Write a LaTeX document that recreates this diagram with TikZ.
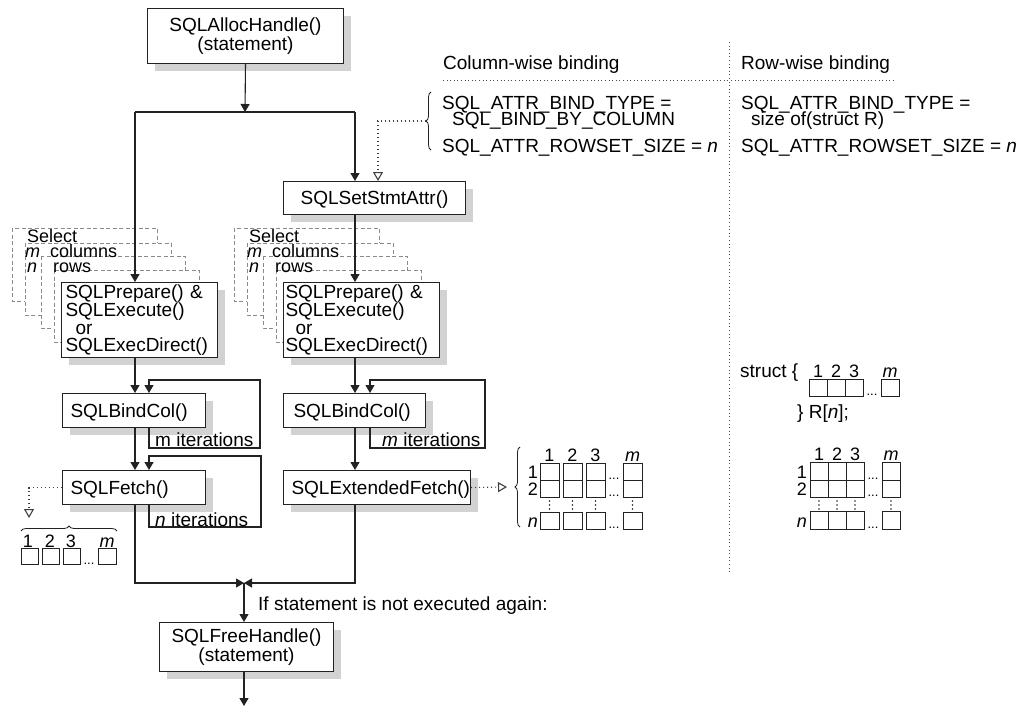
\documentclass[tikz,border=0pt]{standalone}
\usepackage{fontspec}
\setmainfont{Liberation Sans}
\usetikzlibrary{arrows.meta,decorations.pathreplacing,shadows}
\definecolor{ln}{HTML}{222222}
\definecolor{shd}{HTML}{D2D2D2}
\definecolor{dsh}{HTML}{8A8A8A}
\begin{document}
\begin{tikzpicture}[
  x=1pt, y=-1pt,
  every node/.style={font=\fontsize{19}{17.3}\selectfont, inner sep=0pt, text=black},
  fbox/.style={draw=ln, line width=1pt, fill=white, anchor=north west, inner ysep=0pt,
     drop shadow={shadow xshift=7pt, shadow yshift=-7pt, fill=shd, opacity=1}},
  onel/.style={text height=17pt, text depth=4pt},
  conn/.style={draw=ln, line width=1.1pt},
  arr/.style={conn, -{Triangle[length=8pt,width=9pt]}},
  dotc/.style={draw=black!75, line width=1.1pt, dash pattern=on 1.1pt off 2.9pt},
  oarr/.style={dotc, -{Triangle[open,length=9pt,width=10pt,line width=1.1pt]}},
  dotl/.style={draw=black!70, line width=1pt, dash pattern=on 1pt off 2.6pt},
  stk/.style={draw=dsh, fill=white, line width=0.8pt, dash pattern=on 4pt off 2.5pt},
  stxt/.style={anchor=base west, font=\fontsize{18}{18}\selectfont, text height=12pt, text depth=1pt},
  tight/.style={anchor=base west, text height=13pt, text depth=1pt},
  cell/.style={draw=ln, line width=0.9pt},
  brc/.style={draw=ln, line width=0.8pt, decorate, decoration={brace, amplitude=5pt}},
  lab/.style={font=\fontsize{18}{18}\selectfont, anchor=base},
  rlab/.style={font=\fontsize{18}{18}\selectfont, anchor=base east},
  dts/.style={font=\fontsize{13}{13}\selectfont, anchor=base},
  txt/.style={anchor=base west}
]
\useasboundingbox (0,0) rectangle (1021,707);

% ---------- dashed stacks ----------
\foreach \dx in {0,222}{
  \draw[stk] (\dx+12,228) rectangle (\dx+157,301);
  \draw[stk] (\dx+25,243) rectangle (\dx+171,315);
  \draw[stk] (\dx+41,256) rectangle (\dx+185,328);
  \draw[stk] (\dx+54,270) rectangle (\dx+199,342);
}
\node[stxt] (selL) at (27,242) {Select};
\node[stxt] (mL) at (25,257) {\itshape m};
\node[stxt] (colL) at (50,257) {columns};
\node[stxt] (nL) at (27,272) {\itshape n};
\node[stxt] (rowL) at (53,272) {rows};
\node[stxt] (selM) at (249,242) {Select};
\node[stxt] (mM) at (247,257) {\itshape m};
\node[stxt] (colM) at (272,257) {columns};
\node[stxt] (nM) at (249,272) {\itshape n};
\node[stxt] (rowM) at (275,272) {rows};

% ---------- boxes ----------
\node[fbox, minimum width=196pt, minimum height=55pt, align=center] (alloc) at (147,8)
  {SQLAllocHandle()\\(statement)};
\node[fbox, onel, minimum width=182pt, minimum height=33pt] (setstmt) at (283,181)
  {SQLSetStmtAttr()};
\node[fbox, text width=148pt, inner xsep=4pt, minimum height=75pt, align=left] (prepL) at (61,282)
  {SQLPrepare() \&\\SQLExecute()\\\hspace*{10pt}or\\SQLExecDirect()};
\node[fbox, text width=152pt, inner xsep=2pt, minimum height=75pt, align=left] (prepM) at (283,282)
  {SQLPrepare() \&\\SQLExecute()\\\hspace*{10pt}or\\SQLExecDirect()};
\node[fbox, onel, text width=127pt, inner xsep=8pt, minimum height=34pt, align=left] (bindL) at (62,393)
  {SQLBindCol()};
\node[fbox, onel, text width=122pt, inner xsep=10pt, minimum height=34pt, align=left] (bindM) at (283,393)
  {SQLBindCol()};
\node[fbox, onel, text width=127pt, inner xsep=8pt, minimum height=34pt, align=left] (fetchL) at (62,470)
  {SQLFetch()};
\node[fbox, onel, text width=179pt, inner xsep=4pt, minimum height=34pt, align=left] (extM) at (283,470)
  {\mbox{\hspace*{4pt}SQLExtendedFetch()}};
\node[fbox, minimum width=174pt, minimum height=49pt, align=center] (freeH) at (159,622)
  {SQLFreeHandle()\\(statement)};

% ---------- main connectors ----------
\coordinate (jT) at (245,112);
\coordinate (jL) at (135,112);
\coordinate (jR) at (355,112);
\draw[arr] (alloc.south) -- (jT);
\draw[conn] (jL) -- (jR);
\draw[arr] (jL) -- (jL |- prepL.north);
\draw[arr] (jR) -- (jR |- setstmt.north);
\draw[arr] (setstmt.south -| jR) -- (jR |- prepM.north);
\draw[arr] (prepL.south -| jL) -- (jL |- bindL.north);
\draw[arr] (prepM.south -| jR) -- (jR |- bindM.north);
\draw[arr] (bindL.south -| jL) -- (jL |- fetchL.north);
\draw[arr] (bindM.south -| jR) -- (jR |- extM.north);

% loops
\coordinate (lL) at (149,0);
\coordinate (lM) at (370,0);
\coordinate (lb1) at (260,448);
\coordinate (lt1) at (260,380);
\draw[arr] (bindL.south -| lL) |- (lb1) -- (lt1) -| (bindL.north -| lL);
\node[txt] (itL1) at (155,446) {m iterations};
\coordinate (lb2) at (261,527);
\coordinate (lt2) at (261,456);
\draw[arr] (fetchL.south -| lL) |- (lb2) -- (lt2) -| (fetchL.north -| lL);
\node[txt] (itL2) at (155,526) {\textit{n} iterations};
\coordinate (lb3) at (485,448);
\coordinate (lt3) at (485,380);
\draw[arr] (bindM.south -| lM) |- (lb3) -- (lt3) -| (bindM.north -| lM);
\node[txt] (itM) at (382,446) {\textit{m} iterations};

% bottom
\coordinate (bL) at (135,583);
\coordinate (bR) at (355,583);
\coordinate (bC) at (244,583);
\coordinate (bE) at (244,706);
\draw[arr] (fetchL.south -| bL) |- (bC);
\draw[arr] (extM.south -| bR) |- (bC);
\draw[arr] (bC) -- (bC |- freeH.north);
\draw[arr] (freeH.south -| bC) -- (bE);
\node[txt] (again) at (258,610) {If statement is not executed again:};

% ---------- binding headers ----------
\draw[dotl] (443,80) -- (895,80);
\draw[dotl] (729,42) -- (729,573);
\node[txt] (hcol) at (443,69) {Column-wise binding};
\node[txt] (hrow) at (741,69) {Row-wise binding};
\node[tight] (c1) at (442,109) {SQL\_ATTR\_BIND\_TYPE =};
\node[tight] (c2) at (452,125) {SQL\_BIND\_BY\_COLUMN};
\node[txt] (c3) at (442,152) {SQL\_ATTR\_ROWSET\_SIZE = \textit{n}};
\node[tight] (r1) at (741,109) {SQL\_ATTR\_BIND\_TYPE =};
\node[tight] (r2) at (751,125) {size of(struct R)};
\node[txt] (r3) at (741,152) {SQL\_ATTR\_ROWSET\_SIZE = \textit{n}};
\draw[brc] (431,150) -- (431,92);
\coordinate (br1) at (426,121);
\coordinate (sx) at (378,0);
\draw[oarr] (br1) -| (sx |- setstmt.north);

% ---------- SQLFetch result (bottom left) ----------
\coordinate (tri1) at (29,518);
\draw[oarr] (fetchL.west) -| (tri1);
\draw[brc] (21,531) -- (117,531);
\foreach \x/\w in {21/17,42/17,63/17,98/18}{
  \draw[cell] (\x,548) rectangle ++(\w,16);
}
\node[lab] (bh1) at (28,547) {1};
\node[lab] (bh2) at (50,547) {2};
\node[lab] (bh3) at (71,547) {3};
\node[lab] (bhm) at (107,547) {\itshape m};
\node[dts] (bd) at (89,564) {...};

% ---------- SQLExtendedFetch result (middle) ----------
\coordinate (tri2) at (507,487);
\draw[oarr] (extM.east) -- (tri2);
\draw[brc] (520,527) -- (520,447);
\foreach \x in {540,563,586,623}{
  \draw[cell] (\x,463) rectangle ++(19,17);
  \draw[cell] (\x,480) rectangle ++(19,17);
  \draw[cell] (\x,512) rectangle ++(19,17);
  \foreach \yy in {501,505,509} \fill[ln] (\x+9.5,\yy) circle (0.8pt);
}
\node[lab] (mh1) at (549.5,461) {1};
\node[lab] (mh2) at (572.5,461) {2};
\node[lab] (mh3) at (595.5,461) {3};
\node[lab] (mhm) at (632.5,461) {\itshape m};
\node[rlab] (mr1) at (538,478) {1};
\node[rlab] (mr2) at (538,495) {2};
\node[rlab] (mrn) at (538,527) {\itshape n};
\node[dts] (md1) at (614,479) {...};
\node[dts] (md2) at (614,496) {...};
\node[dts] (md3) at (614,528) {...};

% ---------- row-wise (right) ----------
\node[txt] (st1) at (740,377) {struct \{};
\foreach \x in {809,827,845,881}{
  \draw[cell] (\x,379) rectangle ++(18,17);
}
\node[lab] (sh1) at (818,377) {1};
\node[lab] (sh2) at (836,377) {2};
\node[lab] (sh3) at (854,377) {3};
\node[lab] (shm) at (890,377) {\itshape m};
\node[dts] (sd) at (872,395) {...};
\node[txt] (st2) at (797,418) {\} R[\textit{n}];};

\foreach \x in {810,828,846,882}{
  \draw[cell] (\x,462) rectangle ++(18,18);
  \draw[cell] (\x,480) rectangle ++(18,17);
  \draw[cell] (\x,511) rectangle ++(18,18);
  \foreach \yy in {501,505,509} \fill[ln] (\x+9,\yy) circle (0.8pt);
}
\node[lab] (gh1) at (819,460) {1};
\node[lab] (gh2) at (837,460) {2};
\node[lab] (gh3) at (855,460) {3};
\node[lab] (ghm) at (891,460) {\itshape m};
\node[rlab] (gr1) at (807,478) {1};
\node[rlab] (gr2) at (807,495) {2};
\node[rlab] (grn) at (807,527) {\itshape n};
\node[dts] (gd1) at (873,479) {...};
\node[dts] (gd2) at (873,496) {...};
\node[dts] (gd3) at (873,528) {...};
\end{tikzpicture}
\end{document}
